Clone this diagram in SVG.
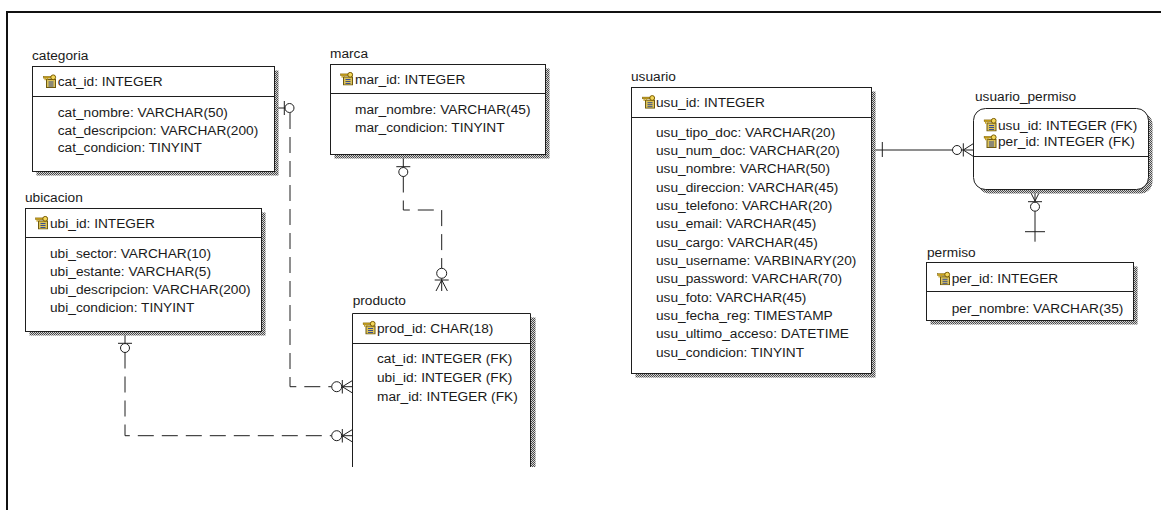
<svg xmlns="http://www.w3.org/2000/svg" xmlns:xlink="http://www.w3.org/1999/xlink" width="1161" height="510" viewBox="0 0 1161 510">
<style>
.box{fill:#fff;stroke:#1e1e1e;stroke-width:1}
.sh{fill:url(#hatch);stroke:none}
.sep{stroke:#1e1e1e;stroke-width:1;fill:none}
.t{font-family:"Liberation Sans",Arial,sans-serif;font-size:13.7px;fill:#1a1a1a}
.ln{stroke:#1e1e1e;stroke-width:1;fill:none}
.dash{stroke-dasharray:16 8}
.cir{fill:#fff;stroke:#1e1e1e;stroke-width:1}
</style>
<defs>
<pattern id="hatch" width="2" height="2" patternUnits="userSpaceOnUse">
<rect width="2" height="2" fill="#d4d4d4"/>
<rect width="1" height="1" fill="#4a4a4a"/>
<rect x="1" y="1" width="1" height="1" fill="#4a4a4a"/>
</pattern>
<symbol id="key" viewBox="0 0 14 14">
<rect x="3.5" y="5.5" width="9" height="8" fill="#dcc35a" stroke="#6e5a10"/>
<line x1="5.5" y1="8" x2="10.5" y2="8" stroke="#3b4f8f"/>
<line x1="5.5" y1="10" x2="10.5" y2="10" stroke="#3b4f8f"/>
<line x1="5.5" y1="12" x2="10.5" y2="12" stroke="#3b4f8f"/>
<rect x="0.5" y="2.4" width="7.5" height="1.7" fill="#c9a21a" stroke="#7a5c00" stroke-width="0.5"/>
<rect x="1.5" y="4" width="1.3" height="2.2" fill="#c9a21a"/>
<rect x="3.8" y="4" width="1.3" height="1.6" fill="#c9a21a"/>
<circle cx="10.2" cy="3.3" r="2.4" fill="#f3d75a" stroke="#7a5c00" stroke-width="1"/>
</symbol>
</defs>
<rect width="1161" height="510" fill="#fff"/>
<path d="M7,510 V12 H1161" fill="none" stroke="#111" stroke-width="2"/>

<g id="connectors">
<!-- categoria - producto -->
<path class="ln" d="M274.5,108 H285"/>
<line class="ln" x1="284.3" y1="101" x2="284.3" y2="115"/>
<circle class="cir" cx="289.5" cy="108" r="4.5"/>
<path class="ln dash" d="M290,113 V386.7 H331.7"/>
<circle class="cir" cx="336.7" cy="386.7" r="5"/>
<path class="ln" d="M341.7,386.7 H352.5 M342.3,380 V393.5 M342.3,386.7 L352.5,380.5 M342.3,386.7 L352.5,393"/>
<!-- ubicacion - producto -->
<path class="ln" d="M125,331.5 V343.5 M118,343.3 H132"/>
<circle class="cir" cx="125" cy="348" r="4.5"/>
<path class="ln dash" d="M125,352.5 V435.7 H331.7"/>
<circle class="cir" cx="336.7" cy="435.7" r="5"/>
<path class="ln" d="M341.7,435.7 H352.5 M342.3,429 V442.5 M342.3,435.7 L352.5,429.5 M342.3,435.7 L352.5,442"/>
<!-- marca - producto -->
<path class="ln" d="M403.3,154.5 V167.5 M396.3,166.7 H410.3"/>
<circle class="cir" cx="403.3" cy="172" r="4.5"/>
<path class="ln dash" d="M403.3,176.5 V210 H441.7 V268.3"/>
<circle class="cir" cx="441.7" cy="273.3" r="5"/>
<path class="ln" d="M441.7,278.3 V291 M434.7,280 H448.7 M441.7,280 L436,291 M441.7,280 L447.4,291"/>
<!-- usuario - usuario_permiso -->
<path class="ln" d="M871.5,150 H952.5 M882.3,142 V157"/>
<circle class="cir" cx="957" cy="150" r="4.5"/>
<path class="ln" d="M961.5,150 H973.5 M963.3,143.3 V156.5 M963.3,150 L973.5,143.5 M963.3,150 L973.5,156.5"/>
<!-- usuario_permiso - permiso -->
<path class="ln" d="M1035,189.5 V202 M1035,201 L1029.5,190 M1035,201 L1040.5,190 M1028,201.7 H1042"/>
<circle class="cir" cx="1035" cy="206.7" r="4.5"/>
<path class="ln" d="M1035,211.2 V241.7 M1025,231.7 H1045"/>
</g>

<g id="categoria">
<rect class="sh" x="36.5" y="70.5" width="242" height="105"/>
<rect class="box" x="32.5" y="66.5" width="242" height="105"/>
<line class="sep" x1="32.5" y1="96.5" x2="274.5" y2="96.5"/>
<text class="t" x="32" y="60">categoria</text>
<use xlink:href="#key" x="43" y="74" width="14" height="14"/>
<text class="t" x="57.7" y="86">cat_id: INTEGER</text>
<text class="t" x="57.7" y="116.5">cat_nombre: VARCHAR(50)</text>
<text class="t" x="57.7" y="134.5">cat_descripcion: VARCHAR(200)</text>
<text class="t" x="57.7" y="152.3">cat_condicion: TINYINT</text>
</g>

<g id="marca">
<rect class="sh" x="334.5" y="68.5" width="215" height="90"/>
<rect class="box" x="330.5" y="64.5" width="215" height="90"/>
<line class="sep" x1="330.5" y1="93.5" x2="545.5" y2="93.5"/>
<text class="t" x="330" y="57.5">marca</text>
<use xlink:href="#key" x="340" y="71.5" width="14" height="14"/>
<text class="t" x="355" y="83.5">mar_id: INTEGER</text>
<text class="t" x="355" y="114">mar_nombre: VARCHAR(45)</text>
<text class="t" x="355" y="131.7">mar_condicion: TINYINT</text>
</g>

<g id="ubicacion">
<rect class="sh" x="29.5" y="212.5" width="236" height="123"/>
<rect class="box" x="25.5" y="208.5" width="236" height="123"/>
<line class="sep" x1="25.5" y1="237.5" x2="261.5" y2="237.5"/>
<text class="t" x="25" y="201.5">ubicacion</text>
<use xlink:href="#key" x="35" y="215.5" width="14" height="14"/>
<text class="t" x="50" y="227.5">ubi_id: INTEGER</text>
<text class="t" x="50" y="258.3">ubi_sector: VARCHAR(10)</text>
<text class="t" x="50" y="276">ubi_estante: VARCHAR(5)</text>
<text class="t" x="50" y="293.7">ubi_descripcion: VARCHAR(200)</text>
<text class="t" x="50" y="311.5">ubi_condicion: TINYINT</text>
</g>

<g id="producto">
<rect class="sh" x="530.5" y="317.5" width="5" height="149.5"/>
<path d="M352.5,467 V313.5 H530.5 V467" fill="#fff" stroke="#1e1e1e" stroke-width="1"/>
<line class="sep" x1="352.5" y1="343.5" x2="530.5" y2="343.5"/>
<text class="t" x="352.7" y="305">producto</text>
<use xlink:href="#key" x="362.5" y="320.5" width="14" height="14"/>
<text class="t" x="377" y="332.7">prod_id: CHAR(18)</text>
<text class="t" x="377" y="362.7">cat_id: INTEGER (FK)</text>
<text class="t" x="377" y="382">ubi_id: INTEGER (FK)</text>
<text class="t" x="377" y="400.5">mar_id: INTEGER (FK)</text>
</g>

<g id="usuario">
<rect class="sh" x="635.5" y="91.5" width="240" height="286"/>
<rect class="box" x="631.5" y="87.5" width="240" height="286"/>
<line class="sep" x1="631.5" y1="117.5" x2="871.5" y2="117.5"/>
<text class="t" x="631" y="80.5">usuario</text>
<use xlink:href="#key" x="642" y="94.7" width="14" height="14"/>
<text class="t" x="656" y="106.7">usu_id: INTEGER</text>
<text class="t" x="656" y="136.7">usu_tipo_doc: VARCHAR(20)</text>
<text class="t" x="656" y="155">usu_num_doc: VARCHAR(20)</text>
<text class="t" x="656" y="173.4">usu_nombre: VARCHAR(50)</text>
<text class="t" x="656" y="191.7">usu_direccion: VARCHAR(45)</text>
<text class="t" x="656" y="210">usu_telefono: VARCHAR(20)</text>
<text class="t" x="656" y="228.4">usu_email: VARCHAR(45)</text>
<text class="t" x="656" y="246.7">usu_cargo: VARCHAR(45)</text>
<text class="t" x="656" y="265">usu_username: VARBINARY(20)</text>
<text class="t" x="656" y="283.4">usu_password: VARCHAR(70)</text>
<text class="t" x="656" y="301.7">usu_foto: VARCHAR(45)</text>
<text class="t" x="656" y="320">usu_fecha_reg: TIMESTAMP</text>
<text class="t" x="656" y="338.4">usu_ultimo_acceso: DATETIME</text>
<text class="t" x="656" y="356.7">usu_condicion: TINYINT</text>
</g>

<g id="usuario_permiso">
<rect class="sh" x="977.5" y="112.5" width="175" height="81" rx="12"/>
<rect class="box" x="973.5" y="108.5" width="175" height="81" rx="12"/>
<line class="sep" x1="973.5" y1="156.5" x2="1148.5" y2="156.5"/>
<text class="t" x="975" y="101">usuario_permiso</text>
<use xlink:href="#key" x="983.5" y="117.5" width="14" height="14"/>
<text class="t" x="998" y="129.5">usu_id: INTEGER (FK)</text>
<use xlink:href="#key" x="983.5" y="134" width="14" height="14"/>
<text class="t" x="998" y="146.3">per_id: INTEGER (FK)</text>
</g>

<g id="permiso">
<rect class="sh" x="930.5" y="266.5" width="207" height="58"/>
<rect class="box" x="926.5" y="262.5" width="207" height="58"/>
<line class="sep" x1="926.5" y1="291.5" x2="1133.5" y2="291.5"/>
<text class="t" x="927" y="256.5">permiso</text>
<use xlink:href="#key" x="937" y="271.3" width="14" height="14"/>
<text class="t" x="951.7" y="283.3">per_id: INTEGER</text>
<text class="t" x="951.7" y="313.3">per_nombre: VARCHAR(35)</text>
</g>
</svg>
